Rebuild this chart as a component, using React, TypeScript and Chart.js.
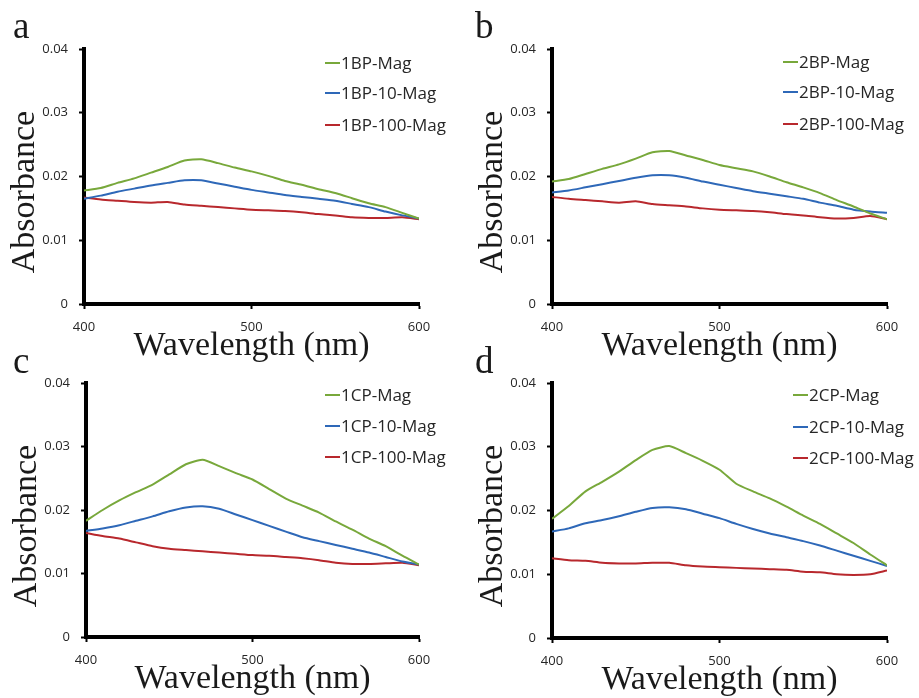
import React, { useEffect, useRef } from "react";
import { Chart, registerables } from "chart.js";

Chart.register(...registerables);

const wavelengths = [400, 410, 420, 430, 440, 450, 460, 470, 480, 490, 500, 510, 520, 530, 540, 550, 560, 570, 580, 590, 600];

const aMag = [0.0178, 0.0182, 0.019, 0.0197, 0.0206, 0.0215, 0.0225, 0.0227, 0.0221, 0.0214, 0.0208, 0.0201, 0.0193, 0.0187, 0.018, 0.0174, 0.0166, 0.0158, 0.0152, 0.0143, 0.0134];
const a10Mag = [0.0165, 0.017, 0.0176, 0.0181, 0.0186, 0.019, 0.0194, 0.0194, 0.0189, 0.0184, 0.0179, 0.0175, 0.0171, 0.0168, 0.0165, 0.0162, 0.0157, 0.0152, 0.0145, 0.0139, 0.0134];
const a100Mag = [0.0167, 0.0164, 0.0162, 0.016, 0.0159, 0.016, 0.0156, 0.0154, 0.0152, 0.015, 0.0148, 0.0147, 0.0146, 0.0144, 0.0141, 0.0139, 0.0136, 0.0135, 0.0135, 0.0136, 0.0133];

const bMag = [0.0192, 0.0196, 0.0204, 0.0212, 0.0219, 0.0228, 0.0238, 0.024, 0.0233, 0.0226, 0.0218, 0.0213, 0.0208, 0.02, 0.0191, 0.0183, 0.0174, 0.0163, 0.0153, 0.0142, 0.0133];
const b10Mag = [0.0175, 0.0178, 0.0183, 0.0188, 0.0193, 0.0198, 0.0202, 0.0202, 0.0198, 0.0192, 0.0187, 0.0182, 0.0177, 0.0173, 0.0169, 0.0165, 0.0159, 0.0154, 0.0148, 0.0145, 0.0143];
const b100Mag = [0.0168, 0.0165, 0.0163, 0.0161, 0.0159, 0.0161, 0.0157, 0.0155, 0.0153, 0.015, 0.0148, 0.0147, 0.0146, 0.0144, 0.0141, 0.0139, 0.0136, 0.0134, 0.0135, 0.0138, 0.0133];

const cMag = [0.0183, 0.02, 0.0215, 0.0228, 0.024, 0.0256, 0.0272, 0.0279, 0.0269, 0.0258, 0.0248, 0.0233, 0.0218, 0.0207, 0.0196, 0.0182, 0.0169, 0.0155, 0.0143, 0.0128, 0.0114];
const c10Mag = [0.0167, 0.0171, 0.0176, 0.0183, 0.019, 0.0198, 0.0204, 0.0206, 0.0202, 0.0193, 0.0184, 0.0175, 0.0166, 0.0157, 0.0151, 0.0145, 0.0139, 0.0133, 0.0126, 0.0119, 0.0114];
const c100Mag = [0.0164, 0.0159, 0.0155, 0.0149, 0.0143, 0.0139, 0.0137, 0.0135, 0.0133, 0.0131, 0.0129, 0.0128, 0.0126, 0.0124, 0.0121, 0.0117, 0.0115, 0.0115, 0.0116, 0.0117, 0.0113];

const dMag = [0.0187, 0.0207, 0.023, 0.0245, 0.0261, 0.0279, 0.0295, 0.0301, 0.029, 0.0278, 0.0264, 0.0242, 0.023, 0.0219, 0.0206, 0.0192, 0.0179, 0.0164, 0.0149, 0.0131, 0.0114];
const d10Mag = [0.0167, 0.0172, 0.018, 0.0185, 0.0191, 0.0198, 0.0204, 0.0205, 0.0202, 0.0195, 0.0188, 0.0179, 0.0171, 0.0164, 0.0158, 0.0152, 0.0145, 0.0137, 0.0129, 0.0121, 0.0113];
const d100Mag = [0.0125, 0.0122, 0.0121, 0.0118, 0.0117, 0.0117, 0.0118, 0.0118, 0.0114, 0.0112, 0.0111, 0.011, 0.0109, 0.0108, 0.0107, 0.0104, 0.0103, 0.01, 0.0099, 0.01, 0.0106];

const labelsA = ["1BP-Mag", "1BP-10-Mag", "1BP-100-Mag"];
const labelsB = ["2BP-Mag", "2BP-10-Mag", "2BP-100-Mag"];
const labelsC = ["1CP-Mag", "1CP-10-Mag", "1CP-100-Mag"];
const labelsD = ["2CP-Mag", "2CP-10-Mag", "2CP-100-Mag"];

const xTitle = "Wavelength (nm)";
const yTitle = "Absorbance";

const COLORS = ["#78A83B", "#2E68B8", "#B8282D"];
const SERIF = "'Liberation Serif', 'Times New Roman', serif";
const SANS = "'Open Sans', 'Noto Sans', sans-serif";

const panels = [
  { letter: "a", left: 0, top: 0, width: 460, height: 375, area: { l: 84, t: 49, r: 419, b: 304 }, labels: labelsA, series: [aMag, a10Mag, a100Mag], legendX: 325, legendY: [63, 93, 125], letterX: 13, letterY: 38 },
  { letter: "b", left: 460, top: 0, width: 459, height: 375, area: { l: 92, t: 49, r: 427, b: 304 }, labels: labelsB, series: [bMag, b10Mag, b100Mag], legendX: 323, legendY: [62, 92, 124], letterX: 15, letterY: 38 },
  { letter: "c", left: 0, top: 340, width: 460, height: 358, area: { l: 86, t: 43, r: 419, b: 297 }, labels: labelsC, series: [cMag, c10Mag, c100Mag], legendX: 325, legendY: [55, 86, 117], letterX: 13, letterY: 33 },
  { letter: "d", left: 460, top: 340, width: 459, height: 358, area: { l: 92, t: 43, r: 427, b: 298 }, labels: labelsD, series: [dMag, d10Mag, d100Mag], legendX: 333, legendY: [55, 87, 118], letterX: 15, letterY: 33 },
];

function Panel({ p }: { p: any }) {
  const ref = useRef<HTMLCanvasElement | null>(null);
  useEffect(() => {
    if (!ref.current) return;
    const deco = {
      id: "deco",
      afterDraw(chart: any) {
        const ctx = chart.ctx;
        const ca = chart.chartArea;
        ctx.save();
        // panel letter
        ctx.fillStyle = "#1a1a1a";
        ctx.font = `37px ${SERIF}`;
        ctx.textAlign = "left";
        ctx.textBaseline = "alphabetic";
        ctx.fillText(p.letter, p.letterX, p.letterY);
        // x title
        ctx.font = `34px ${SERIF}`;
        ctx.textAlign = "center";
        ctx.fillText(xTitle, (ca.left + ca.right) / 2, ca.bottom + 51);
        // y title
        ctx.save();
        ctx.translate(ca.left - 50, ca.top + 143);
        ctx.rotate(-Math.PI / 2);
        ctx.fillText(yTitle, 0, 0);
        ctx.restore();
        // legend
        ctx.font = `17px ${SANS}`;
        ctx.textAlign = "left";
        ctx.textBaseline = "middle";
        p.labels.forEach((lab: string, i: number) => {
          const y = p.legendY[i];
          ctx.strokeStyle = COLORS[i];
          ctx.lineWidth = 2;
          ctx.beginPath();
          ctx.moveTo(p.legendX, y);
          ctx.lineTo(p.legendX + 15, y);
          ctx.stroke();
          ctx.fillStyle = "#262626";
          ctx.fillText(lab, p.legendX + 16, y + 1);
        });
        ctx.restore();
      },
    };
    const chart = new Chart(ref.current, {
      type: "line",
      data: {
        datasets: p.series.map((vals: number[], i: number) => ({
          label: p.labels[i],
          data: wavelengths.map((w, k) => ({ x: w, y: vals[k] })),
          borderColor: COLORS[i],
          backgroundColor: COLORS[i],
          borderWidth: 2,
          pointRadius: 0,
          tension: 0.2,
          fill: false,
        })),
      },
      options: {
        responsive: false,
        animation: false,
        events: [],
        layout: { padding: { left: 0, top: p.area.t, right: p.width - p.area.r, bottom: 0 } },
        plugins: { legend: { display: false }, tooltip: { enabled: false }, title: { display: false } },
        scales: {
          x: {
            type: "linear",
            min: 400,
            max: 600,
            afterFit: (s: any) => { s.height = p.height - p.area.b; },
            ticks: { stepSize: 100, color: "#262626", font: { family: SANS, size: 13 }, padding: 10, maxRotation: 0 },
            grid: { display: true, drawOnChartArea: false, drawTicks: true, tickLength: 5, tickWidth: 2, tickColor: "#000" },
            border: { display: true, color: "#000", width: 4 },
          },
          y: {
            type: "linear",
            min: 0,
            max: 0.04,
            afterFit: (s: any) => { s.width = p.area.l; },
            ticks: { stepSize: 0.01, color: "#262626", font: { family: SANS, size: 13 }, padding: 11 },
            grid: { display: true, drawOnChartArea: false, drawTicks: true, tickLength: 5, tickWidth: 2, tickColor: "#000" },
            border: { display: true, color: "#000", width: 4 },
          },
        },
      },
      plugins: [deco],
    } as any);
    return () => chart.destroy();
  }, [p]);
  return (
    <canvas
      ref={ref}
      width={p.width}
      height={p.height}
      style={{ position: "absolute", left: p.left, top: p.top, width: p.width, height: p.height }}
    />
  );
}

export default function App() {
  return (
    <div style={{ position: "absolute", left: 0, top: 0, width: 919, height: 698, background: "#fff", overflow: "hidden" }}>
      {panels.map((p) => (
        <Panel key={p.letter} p={p} />
      ))}
    </div>
  );
}
